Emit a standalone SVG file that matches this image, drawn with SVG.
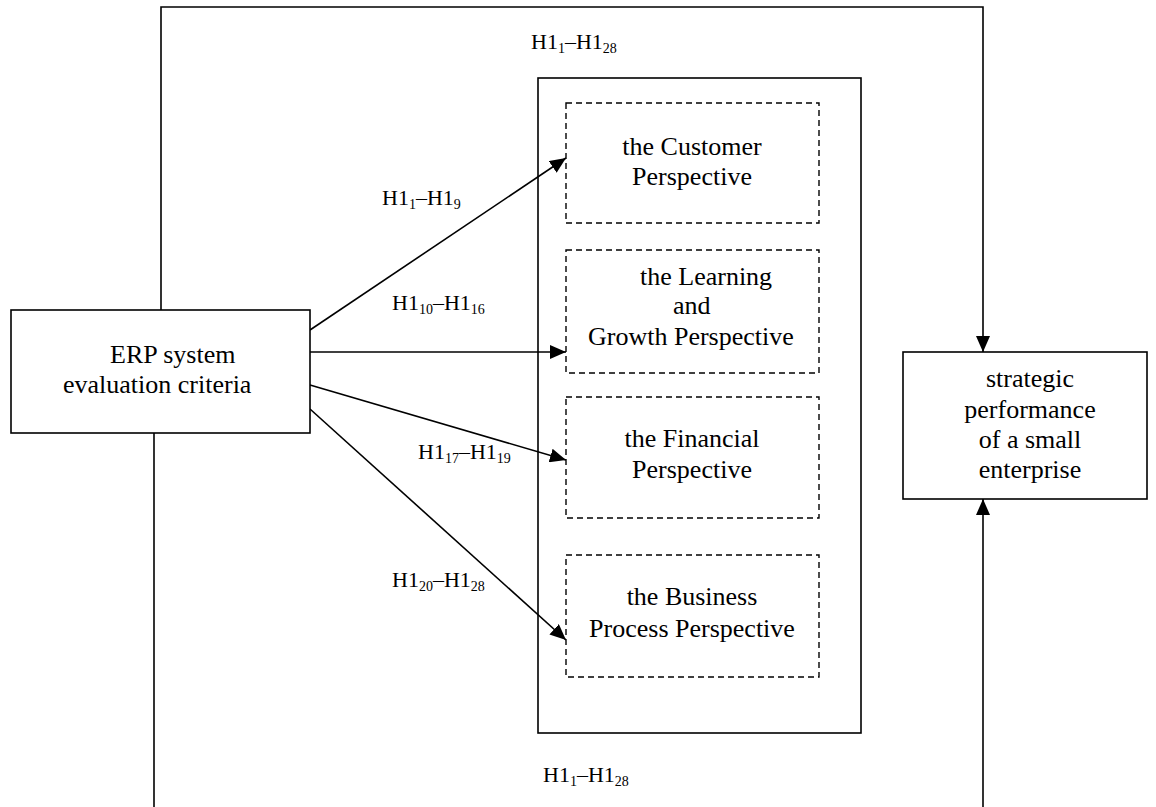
<svg xmlns="http://www.w3.org/2000/svg" width="1156" height="807" viewBox="0 0 1156 807">
<defs>
<style>
.t{font-family:"Liberation Serif","Times New Roman",serif;font-size:26px;fill:#000}
.l{font-family:"Liberation Serif","Times New Roman",serif;font-size:22px;fill:#000}
.s{font-size:14px}
.box{fill:#fff;stroke:#000;stroke-width:1.6}
.dash{fill:#fff;stroke:#000;stroke-width:1.4;stroke-dasharray:6 4}
.c{fill:none;stroke:#000;stroke-width:1.6}
</style>
<marker id="ah" viewBox="0 0 16 14" refX="16" refY="7" markerWidth="16" markerHeight="14" markerUnits="userSpaceOnUse" orient="auto">
<path d="M0,0 L16,7 L0,14 Z" fill="#000"/>
</marker>
</defs>
<rect width="1156" height="807" fill="#fff"/>
<g id="group-box">
<rect x="538" y="78" width="323" height="655" class="box"/>
</g>
<g id="connectors">
<polyline class="c" points="161,310 161,7 983,7 983,352" marker-end="url(#ah)"/>
<polyline class="c" points="154,433 154,807"/>
<line class="c" x1="983" y1="807" x2="983" y2="499" marker-end="url(#ah)"/>
<line class="c" x1="310" y1="330" x2="566" y2="158" marker-end="url(#ah)"/>
<line class="c" x1="310" y1="352" x2="566" y2="352" marker-end="url(#ah)"/>
<line class="c" x1="310" y1="385" x2="566" y2="460" marker-end="url(#ah)"/>
<line class="c" x1="310" y1="409" x2="566" y2="640" marker-end="url(#ah)"/>
</g>
<g id="labels">
<text class="l" x="531" y="49">H1<tspan class="s" dy="4">1</tspan><tspan dy="-4">–H1</tspan><tspan class="s" dy="4">28</tspan></text>
<text class="l" x="382" y="205">H1<tspan class="s" dy="4">1</tspan><tspan dy="-4">–H1</tspan><tspan class="s" dy="4">9</tspan></text>
<text class="l" x="392" y="310">H1<tspan class="s" dy="4">10</tspan><tspan dy="-4">–H1</tspan><tspan class="s" dy="4">16</tspan></text>
<text class="l" x="418" y="459">H1<tspan class="s" dy="4">17</tspan><tspan dy="-4">–H1</tspan><tspan class="s" dy="4">19</tspan></text>
<text class="l" x="392" y="587">H1<tspan class="s" dy="4">20</tspan><tspan dy="-4">–H1</tspan><tspan class="s" dy="4">28</tspan></text>
<text class="l" x="543" y="782">H1<tspan class="s" dy="4">1</tspan><tspan dy="-4">–H1</tspan><tspan class="s" dy="4">28</tspan></text>
</g>
<g id="erp">
<rect x="11" y="310" width="299" height="123" class="box"/>
<text class="t" x="110" y="363">ERP system</text>
<text class="t" x="63" y="393">evaluation criteria</text>
</g>
<g id="customer">
<rect x="566" y="103" width="253" height="120" class="dash"/>
<text class="t" x="692" y="155" text-anchor="middle">the Customer</text>
<text class="t" x="692" y="185" text-anchor="middle">Perspective</text>
</g>
<g id="learning">
<rect x="566" y="250" width="253" height="123" class="dash"/>
<text class="t" x="640" y="285">the Learning</text>
<text class="t" x="673" y="314">and</text>
<text class="t" x="588" y="345">Growth Perspective</text>
</g>
<g id="financial">
<rect x="566" y="397" width="253" height="121" class="dash"/>
<text class="t" x="692" y="447" text-anchor="middle">the Financial</text>
<text class="t" x="692" y="478" text-anchor="middle">Perspective</text>
</g>
<g id="business">
<rect x="566" y="555" width="253" height="122" class="dash"/>
<text class="t" x="692" y="605" text-anchor="middle">the Business</text>
<text class="t" x="692" y="637" text-anchor="middle">Process Perspective</text>
</g>
<g id="strategic">
<rect x="903" y="352" width="244" height="147" class="box"/>
<text class="t" x="1030" y="387" text-anchor="middle">strategic</text>
<text class="t" x="1030" y="418" text-anchor="middle">performance</text>
<text class="t" x="1030" y="448" text-anchor="middle">of a small</text>
<text class="t" x="1030" y="478" text-anchor="middle">enterprise</text>
</g>
</svg>
